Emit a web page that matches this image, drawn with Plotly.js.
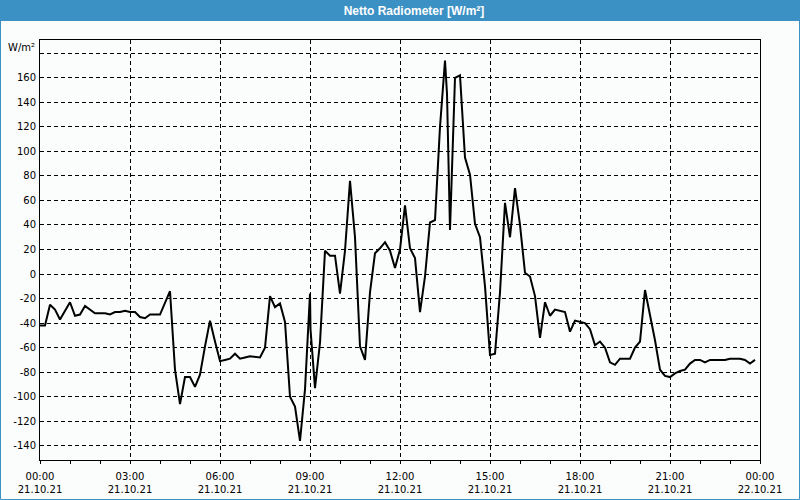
<!DOCTYPE html>
<html>
<head>
<meta charset="utf-8">
<script src="https://cdn.plot.ly/plotly-3.0.1.min.js"></script>
<style>
  html, body { margin: 0; padding: 0; background: #fbfcfc; }
  #chart { width: 800px; height: 500px; }
</style>
</head>
<body>
<div id="chart"></div>
<script>
// ---- data ----
const times = [
  "00:00","00:10","00:20","00:30","00:40","01:00","01:10","01:20","01:30","01:40",
  "01:50","02:10","02:20","02:30","02:40","02:50","03:00","03:10","03:20","03:30",
  "03:40","04:00","04:10","04:20","04:30","04:40","04:50","05:00","05:10","05:20",
  "05:30","05:40","05:50","06:00","06:10","06:20","06:30","06:40","06:50","07:00",
  "07:20","07:30","07:40","07:50","08:00","08:10","08:20","08:30","08:40","08:50",
  "09:00","09:01","09:10","09:20","09:30","09:40","09:50","10:00","10:10","10:20",
  "10:30","10:40","10:50","11:00","11:10","11:20","11:30","11:40","11:50","12:00",
  "12:10","12:20","12:30","12:40","12:50","13:00","13:10","13:20","13:30","13:34",
  "13:40","13:50","14:00","14:10","14:20","14:30","14:40","14:50","15:00","15:10",
  "15:20","15:30","15:40","15:50","16:00","16:10","16:20","16:30","16:40","16:50",
  "17:00","17:10","17:30","17:40","17:50","18:10","18:20","18:30","18:40","18:50",
  "19:00","19:10","19:20","19:40","19:50","20:00","20:10","20:20","20:30","20:40",
  "20:50","21:00","21:10","21:20","21:30","21:40","21:50","22:00","22:10","22:20",
  "22:50","23:00","23:20","23:30","23:40","23:50"
];
const values = [
  -42,-42,-25,-29,-37,-23,-34,-33,-26,-29,
  -32,-32,-33,-31,-31,-30,-31,-31,-35,-36,
  -33,-33,-24,-14,-78,-106,-84,-84,-92,-82,
  -59,-38,-55,-71,-70,-69,-65,-69,-68,-67,
  -68,-60,-18,-27,-24,-39,-100,-108,-136,-94,
  -16,-45,-93,-56,19,15,15,-16,19,76,
  30,-59,-70,-15,17,21,26,19,5,20,
  56,21,13,-31,-2,42,44,120,174,147,
  36,160,162,95,81,41,30,-10,-66,-65,
  -15,58,30,70,40,1,-2,-18,-52,-23,
  -34,-29,-31,-47,-38,-40,-45,-58,-55,-60,
  -72,-74,-69,-69,-60,-55,-13,-33,-54,-78,
  -83,-84,-81,-79,-78,-73,-70,-70,-72,-70,
  -70,-69,-69,-70,-73,-70
];
const day = "2021-10-21 ";
const xTickVals = ["2021-10-21 00:00","2021-10-21 03:00","2021-10-21 06:00","2021-10-21 09:00",
  "2021-10-21 12:00","2021-10-21 15:00","2021-10-21 18:00","2021-10-21 21:00","2021-10-22 00:00"];
const xTickText = ["00:00<br>21.10.21","03:00<br>21.10.21","06:00<br>21.10.21","09:00<br>21.10.21",
  "12:00<br>21.10.21","15:00<br>21.10.21","18:00<br>21.10.21","21:00<br>21.10.21","00:00<br>22.10.21"];
const yTickVals = [-140,-120,-100,-80,-60,-40,-20,0,20,40,60,80,100,120,140,160,180];
const yTickText = ["-140","-120","-100","-80","-60","-40","-20","0","20","40","60","80","100","120","140","160",""];
const titleText = "Netto Radiometer [W/m²]";
const unitText = "W/m²";

// ---- chart ----
const W = 800, H = 500, L = 40, R = 40, T = 40, B = 40;
const pw = W - L - R, ph = H - T - B;
const px = x => (x - L) / pw;
const py = y => 1 - (y - T) / ph;
const blue = "#3c91c4";

const trace = {
  x: times.map(t => day + t),
  y: values,
  type: "scatter",
  mode: "lines",
  line: { color: "#000000", width: 2 },
  hoverinfo: "skip"
};

const tickFont = { family: "DejaVu Sans, Tahoma, sans-serif", size: 10, color: "#000000" };

const layout = {
  width: W, height: H,
  margin: { l: L, r: R, t: T, b: B, pad: 0 },
  paper_bgcolor: "#fbfcfc",
  plot_bgcolor: "#fbfcfc",
  showlegend: false,
  title: {
    text: "<b>" + titleText + "</b>",
    x: 414 / W, xanchor: "center", xref: "container",
    y: 1 - 10.5 / H, yanchor: "middle", yref: "container",
    font: { family: "Liberation Sans, Arial, sans-serif", size: 12, color: "#ffffff" }
  },
  xaxis: {
    type: "date",
    range: ["2021-10-21 00:00", "2021-10-22 00:00"],
    tickvals: xTickVals,
    ticktext: xTickText,
    ticks: "outside", ticklen: 3, tickcolor: "#000000", tickwidth: 1,
    ticklabelstandoff: 4,
    minor: { dtick: 3600000, ticks: "outside", ticklen: 3, tickcolor: "#000000", showgrid: false },
    showgrid: true, gridcolor: "#000000", gridwidth: 1, griddash: "4px,3px",
    showline: true, linecolor: "#000000", linewidth: 1, mirror: true,
    zeroline: false,
    tickfont: tickFont,
    fixedrange: true
  },
  yaxis: {
    range: [-151.6, 190.8],
    tickvals: yTickVals,
    ticktext: yTickText,
    ticks: "", ticklabelstandoff: 1,
    showgrid: true, gridcolor: "#000000", gridwidth: 1, griddash: "4px,3px",
    showline: true, linecolor: "#000000", linewidth: 1, mirror: true,
    zeroline: false,
    tickfont: tickFont,
    fixedrange: true
  },
  shapes: [
    { type: "rect", xref: "paper", yref: "paper", x0: px(0), x1: px(W), y0: py(21), y1: py(0),
      fillcolor: blue, line: { width: 0 }, layer: "below" },
    { type: "rect", xref: "paper", yref: "paper", x0: px(0.5), x1: px(W - 0.5), y0: py(H - 0.5), y1: py(0.5),
      fillcolor: "rgba(0,0,0,0)", line: { color: blue, width: 1 } }
  ],
  annotations: [
    { text: unitText, xref: "paper", yref: "paper", x: px(37), y: py(47),
      xanchor: "right", yanchor: "middle", showarrow: false, font: tickFont }
  ]
};

Plotly.newPlot("chart", [trace], layout, { displayModeBar: false, staticPlot: true });
</script>
</body>
</html>
